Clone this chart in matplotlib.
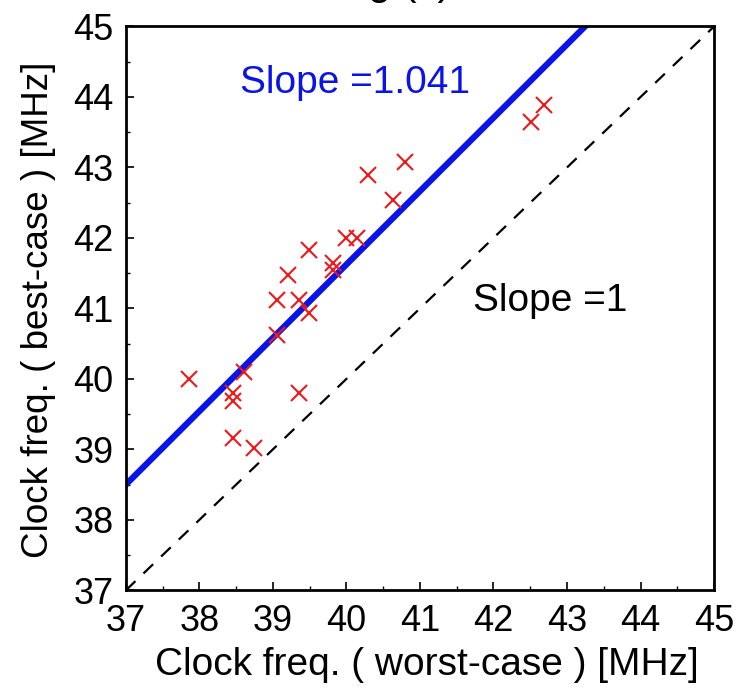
import numpy as np
import matplotlib
matplotlib.use("Agg")
import matplotlib.pyplot as plt
from matplotlib.ticker import MultipleLocator

# worst-case vs best-case clock frequency [MHz]
worst = [37.86, 38.46, 38.46, 38.46, 38.61, 38.75, 39.05, 39.05, 39.21, 39.35,
         39.35, 39.49, 39.49, 39.82, 39.82, 39.99, 40.15, 40.30, 40.63, 40.79,
         42.51, 42.69]
best = [40.00, 39.80, 39.68, 39.16, 40.10, 39.02, 41.12, 40.62, 41.48, 41.12,
        39.80, 41.83, 40.93, 41.64, 41.55, 42.00, 42.00, 42.89, 42.54, 43.08,
        43.65, 43.89]

fit_slope = 1.041
fit_x = [37.0, 45.0]
fit_y0 = 38.5
ticks = np.arange(37, 46, 1)

plt.rcParams['font.family'] = ['Liberation Sans', 'DejaVu Sans']

fig = plt.figure(figsize=(7.4, 6.97), dpi=100)
ax = fig.add_axes([0.170, 0.153, 0.795, 0.809])

# slope = 1 reference
ax.plot(fit_x, fit_x, color='black', linestyle=(0, (6, 5)), linewidth=1.6)

# fitted line
fx = np.array(fit_x)
ax.plot(fx, fit_y0 + fit_slope * (fx - fx[0]), color='#0a14e6', linewidth=4.5)

ax.plot(worst, best, linestyle='none', marker='x', color='#f01818',
        markersize=11, markeredgewidth=1.5)

ax.text(38.55, 44.2, 'Slope =1.041', color='#0a14e6', fontsize=28, va='center')
ax.text(41.72, 41.1, 'Slope =1', color='black', fontsize=28, va='center')

ax.set_xlim(37, 45)
ax.set_ylim(37, 45)
ax.set_xticks(ticks)
ax.set_yticks(ticks)
ax.xaxis.set_minor_locator(MultipleLocator(0.5))
ax.yaxis.set_minor_locator(MultipleLocator(0.5))
ax.tick_params(which='both', direction='in', labelsize=26, top=False, right=False)
ax.tick_params(which='major', length=6, width=1.2)
ax.tick_params(axis='x', which='major', pad=10)
ax.tick_params(axis='y', which='major', pad=9)
ax.tick_params(which='minor', length=3, width=1.0)
for s in ax.spines.values():
    s.set_linewidth(2)

ax.set_xlabel('Clock freq. ( worst-case ) [MHz]', fontsize=28)
ax.set_ylabel('Clock freq. ( best-case ) [MHz]', fontsize=26.5)
ax.xaxis.set_label_coords(0.512, -0.100)
ax.yaxis.set_label_coords(-0.118, 0.497)

# clipped title from the source figure
fig.text(368 / 740, 1 + 6 / 697, 'g (x)', fontsize=30, va='baseline', ha='left')

fig.savefig('out.png', dpi=100)
